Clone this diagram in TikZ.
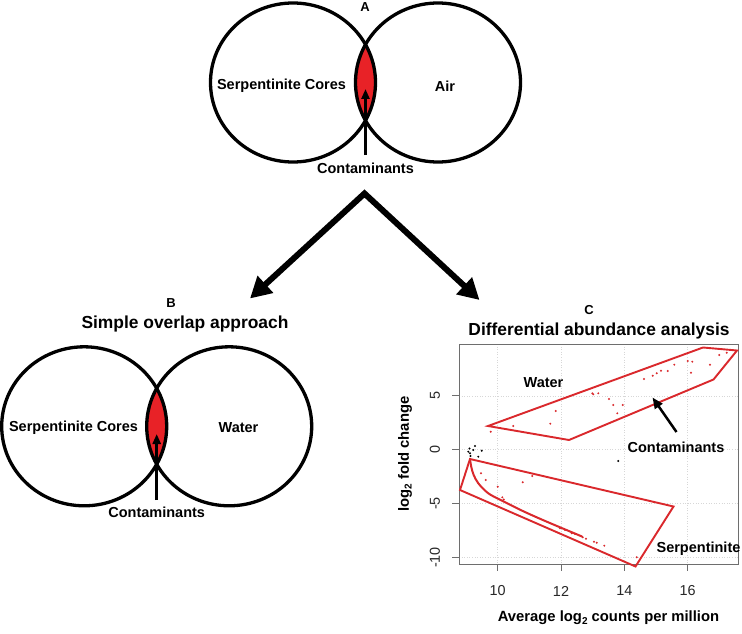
\documentclass[tikz,border=0pt]{standalone}
\usepackage{fontspec}
\setmainfont{Liberation Sans}
\usetikzlibrary{arrows.meta}
\definecolor{lensred}{RGB}{232,34,39}
\definecolor{plotred}{RGB}{218,40,44}
\definecolor{framegray}{RGB}{110,110,110}
\definecolor{gridgray}{RGB}{215,215,215}
\definecolor{ticktext}{RGB}{40,40,40}
\tikzset{
  venn/.style={line width=3.3pt},
  lbl/.style={font=\fontsize{14.5}{17}\selectfont\bfseries, inner sep=0pt},
  ttl/.style={font=\fontsize{17.4}{20}\selectfont\bfseries, inner sep=0pt},
  letter/.style={font=\fontsize{13}{15}\selectfont\bfseries, inner sep=0pt},
  ticklbl/.style={font=\fontsize{14.4}{17}\selectfont, text=ticktext, inner sep=0pt},
  vennarrow/.style={line width=2.5pt, -{Triangle[length=10pt,width=8pt]}},
  bigarrow/.style={line width=6pt, line join=miter, {Triangle[length=21pt,width=22pt]}-{Triangle[length=21pt,width=22pt]}},
  poly/.style={draw=plotred, line width=1.9pt, line join=miter},
  grid/.style={draw=gridgray, line width=0.6pt, dotted},
  rdot/.style={fill=plotred},
  kdot/.style={fill=black},
}
\newcommand{\subtwo}{\raisebox{-0.35ex}{\fontsize{10}{10}\selectfont 2}}
\begin{document}
\begin{tikzpicture}[x=1pt,y=-1pt]
\fill[white] (0,0) rectangle (742,634);
\useasboundingbox (0,0) rectangle (742,634);

% ---------- Venn A ----------
\begin{scope}
  \clip (293,82.5) ellipse [x radius=82.5pt, y radius=79.5pt];
  \fill[lensred] (438,82.5) ellipse [x radius=82.5pt, y radius=79.5pt];
\end{scope}
\draw[venn] (293,82.5) ellipse [x radius=82.5pt, y radius=79.5pt];
\draw[venn] (438,82.5) ellipse [x radius=82.5pt, y radius=79.5pt];
\node[letter] (labA) at (365,7) {A};
\node[lbl] (serpA) at (281.5,86) {Serpentinite Cores};
\node[lbl] (airA) at (445,86) {Air};
\node[lbl] (contA) at (365.5,168.5) {Contaminants};
\coordinate (tailA) at (365.5,155);
\coordinate (tipA) at (365.5,89);
\draw[vennarrow] (tailA) -- (tipA);

% ---------- Big arrows ----------
\coordinate (apex) at (364.5,193.5);
\coordinate (tipB) at (250,298.5);
\coordinate (tipC) at (479.5,300);
\draw[bigarrow] (tipB) -- (apex) -- (tipC);

% ---------- Venn B ----------
\begin{scope}
  \clip (84.2,426.3) ellipse [x radius=82.5pt, y radius=79.5pt];
  \fill[lensred] (229.2,426.3) ellipse [x radius=82.5pt, y radius=79.5pt];
\end{scope}
\draw[venn] (84.2,426.3) ellipse [x radius=82.5pt, y radius=79.5pt];
\draw[venn] (229.2,426.3) ellipse [x radius=82.5pt, y radius=79.5pt];
\node[letter] (labB) at (171,303.5) {B};
\node[ttl] (ttlB) at (185,324) {Simple overlap approach};
\node[lbl] (serpB) at (73.5,427.5) {Serpentinite Cores};
\node[lbl] (watB) at (238.5,427.5) {Water};
\node[lbl] (contB) at (156.7,512.5) {Contaminants};
\coordinate (tailB) at (156.7,500);
\coordinate (tipBv) at (156.7,434);
\draw[vennarrow] (tailB) -- (tipBv);

% ---------- Plot C ----------
\node[letter] (labC) at (589,310) {C};
\node[ttl] (ttlC) at (599,331) {Differential abundance analysis};

% grid
\foreach \gx in {497.7,561.0,624.4,687.7} \draw[grid] (\gx,344) -- (\gx,564);
\foreach \gy in {395.85,449.7,503.55,557.4} \draw[grid] (459,\gy) -- (738,\gy);
% frame
\draw[framegray, line width=1pt] (459,344) rectangle (738,564);
% ticks
\foreach \gx/\t in {497.7/10,561.0/12,624.4/14,687.7/16} {
  \draw[framegray, line width=1pt] (\gx,564) -- (\gx,571);
  \node[ticklbl] at (\gx,591) {\t};
}
\foreach \gy/\t in {395.85/5,449.7/0,503.55/-5,557.4/-10} {
  \draw[framegray, line width=1pt] (459,\gy) -- (452,\gy);
  \node[ticklbl, rotate=90] at (435,\gy) {\t};
}
\node[lbl, font=\fontsize{14.8}{17}\selectfont\bfseries] (xtitle) at (608.5,618) {Average log\subtwo{} counts per million};
\node[lbl, font=\fontsize{14.8}{17}\selectfont\bfseries, rotate=90] (ytitle) at (405,454) {log\subtwo{} fold change};

% water polygon
\draw[poly] (488,426) -- (703,347.5) -- (737,350.5) -- (713.5,379.5) -- (569,440) -- cycle;
% serpentinite polygon
\draw[poly] (470,459) -- (460,490) -- (635.5,566.5) -- (673.5,506.5) -- cycle;
% dense curve of points
\draw[plotred, line width=2pt, line cap=round] plot[smooth, tension=0.55] coordinates {(470,459) (471.3,467) (473.5,474.5) (478.3,483.3) (488.3,493.3) (501.7,500.5) (521.7,510.5) (541.7,519.5) (561.7,528) (582,536.5)};

% red dots water
\foreach \p in {(490.7,431.7),(513.3,426),(550.3,423.7),(555.7,411),(592.3,393.3),(593.3,394.3),(598.3,393.3),(609,399),(613.3,405),(617.3,413.3),(622.7,405),(644,379),(652.7,375.7),(656.7,373.3),(661,370.7),(667.7,371),(674.3,364.7),(687.7,361),(692.3,361.7),(691,372.7),(710,364.7),(719.3,355),(726.7,352.7)}
  \fill[rdot] \p circle[radius=1.1pt];
% red dots serpentinite
\foreach \p in {(481,473.3),(485.7,480),(497.7,486.7),(522.7,482.3),(532.3,476),(502.3,497.3),(503.8,499.5),(560,528.3),(565,530),(571.7,533.3),(575,534),(582.7,537.3),(586,538.7),(594,541.7),(596.7,542.7),(604.3,545.7),(636.7,557.3)}
  \fill[rdot] \p circle[radius=1.1pt];
% black dots
\foreach \p in {(475,446),(468.3,451.7),(470,453.3),(473.3,450),(481.7,450.7),(478.3,456.7),(469.5,448.5),(470.5,456),(618.3,461)}
  \fill[kdot] \p circle[radius=1.1pt];

\node[lbl] (watC) at (543.5,382.5) {Water};
\node[lbl] (contC) at (676,447) {Contaminants};
\node[lbl] (serpC) at (698.5,548.5) {Serpentinite};
\coordinate (tailC) at (676.5,432);
\coordinate (tipCc) at (652.5,397.5);
\draw[line width=2.5pt, -{Triangle[length=11pt,width=9pt]}] (tailC) -- (tipCc);
\end{tikzpicture}
\end{document}
